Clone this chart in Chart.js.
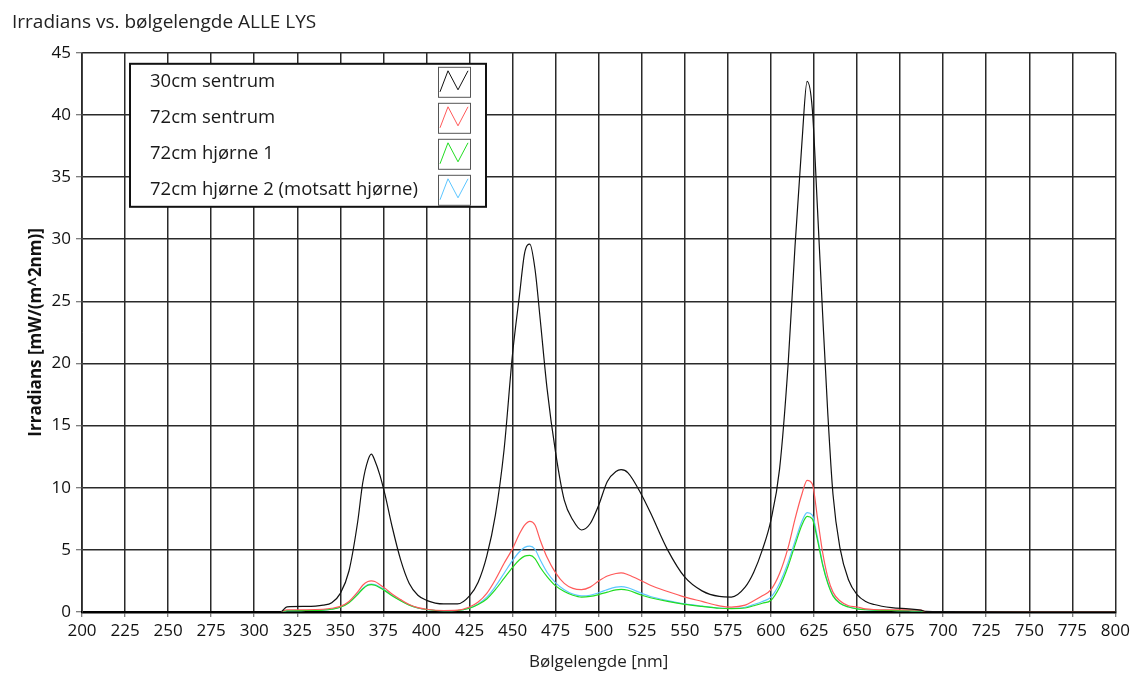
<!DOCTYPE html>
<html lang="no">
<head>
<meta charset="UTF-8">
<title>Irradians vs. bølgelengde ALLE LYS</title>
<script src="https://cdn.jsdelivr.net/npm/chart.js@4.4.1/dist/chart.umd.min.js"></script>
<style>
  html, body { margin: 0; padding: 0; background: #fff; }
  #wrap { width: 1134px; height: 673px; }
</style>
</head>
<body>
<div id="wrap"><canvas id="chart"></canvas></div>
<script>
// wavelengths (nm) shared by all four measurements
const wavelengths = [316,319,330,340,345,350,355,360,363,366,368,370,373,376,380,385,390,395,400,410,
  418,425,430,435,440,445,450,454,457,460,463,466,470,475,480,485,490,495,500,505,
  510,513,517,525,530,540,550,560,570,577,585,590,595,600,605,610,614,618,621,624,
  627,630,633,636,640,645,650,655,660,670,680,687,690,700,750,800];

const sentrum30 = [0.05,0.42,0.45,0.55,0.75,1.5,3.3,7.2,10.4,12.2,12.7,12.2,11.0,9.4,6.9,4.2,2.3,1.35,0.94,0.65,
  0.65,1.3,2.4,4.5,7.8,13.0,20.8,25.5,28.9,29.6,27.6,23.6,18.0,12.8,9.0,7.4,6.6,7.1,8.6,10.5,
  11.3,11.45,11.2,9.4,8.0,5.0,2.8,1.7,1.25,1.2,2.0,3.2,5.0,7.4,11.5,20.0,29.5,37.8,42.7,40.5,
  32.5,24.0,16.0,9.5,5.2,2.6,1.4,0.85,0.6,0.35,0.25,0.15,0.05,0.03,0.02,0.02];

const sentrum72 = [0.05,0.18,0.18,0.22,0.3,0.45,0.85,1.6,2.15,2.45,2.5,2.45,2.2,1.9,1.45,1.0,0.6,0.35,0.22,0.12,
  0.15,0.4,0.8,1.5,2.6,3.9,5.1,6.3,7.0,7.3,7.0,5.8,4.4,3.15,2.3,1.9,1.8,2.0,2.5,2.9,
  3.1,3.15,3.0,2.5,2.15,1.65,1.2,0.85,0.5,0.4,0.55,0.9,1.3,1.8,3.1,5.2,7.5,9.5,10.6,10.3,
  7.6,4.8,2.8,1.6,0.9,0.5,0.4,0.25,0.2,0.18,0.17,0.15,0.02,0.02,0.02,0.02];

const hjorne1 = [0.04,0.1,0.12,0.15,0.22,0.38,0.75,1.4,1.85,2.15,2.2,2.15,1.95,1.7,1.3,0.9,0.55,0.32,0.2,0.1,
  0.12,0.3,0.6,1.05,1.8,2.7,3.6,4.2,4.5,4.55,4.3,3.6,2.85,2.1,1.65,1.35,1.2,1.25,1.4,1.6,
  1.78,1.82,1.75,1.35,1.15,0.85,0.62,0.45,0.3,0.27,0.32,0.5,0.7,0.95,2.0,3.7,5.4,7.0,7.7,7.5,
  5.8,3.8,2.3,1.3,0.7,0.4,0.25,0.18,0.14,0.12,0.1,0.08,0.02,0.02,0.02,0.02];

const hjorne2 = [0.04,0.1,0.12,0.15,0.22,0.4,0.78,1.45,1.9,2.2,2.25,2.2,2.0,1.75,1.35,0.92,0.57,0.33,0.2,0.1,
  0.12,0.32,0.65,1.2,2.05,3.1,4.15,4.85,5.2,5.3,5.05,4.2,3.2,2.35,1.8,1.45,1.3,1.35,1.55,1.8,
  2.0,2.05,1.95,1.5,1.25,0.92,0.65,0.47,0.32,0.3,0.38,0.6,0.85,1.2,2.3,4.0,5.7,7.3,8.0,7.8,
  6.0,3.9,2.4,1.35,0.72,0.42,0.26,0.18,0.14,0.12,0.1,0.08,0.02,0.02,0.02,0.02];

const seriesNames = ['30cm sentrum', '72cm sentrum', '72cm hjørne 1', '72cm hjørne 2 (motsatt hjørne)'];
const seriesColors = ['#111111', '#ff5a5a', '#22dd22', '#5cc6ff'];

const FONT = '"Open Sans", "Noto Sans", sans-serif';

function points(vals) {
  return wavelengths.map((x, i) => ({ x: x, y: vals[i] }));
}

// legend drawn inside the plot, like the original instrument software
const legendBox = {
  id: 'legendBox',
  afterDraw(chart) {
    const ctx = chart.ctx;
    const a = chart.chartArea;
    const x0 = a.left + 48, y0 = a.top + 11, w = 356, h = 143;
    ctx.save();
    ctx.fillStyle = '#fff';
    ctx.fillRect(x0, y0, w, h);
    ctx.lineWidth = 2;
    ctx.strokeStyle = '#111';
    ctx.strokeRect(x0, y0, w, h);
    ctx.font = '18.5px ' + FONT;
    ctx.textBaseline = 'middle';
    seriesNames.forEach((name, i) => {
      const rowY = y0 + 3 + i * 36;
      ctx.fillStyle = '#1a1a1a';
      ctx.fillText(name, x0 + 20, rowY + 15);
      const ix = x0 + 308;
      ctx.lineWidth = 1;
      ctx.strokeStyle = '#555';
      ctx.strokeRect(ix + 0.5, rowY + 0.5, 32, 30);
      ctx.strokeStyle = seriesColors[i];
      ctx.beginPath();
      ctx.moveTo(ix + 2, rowY + 25);
      ctx.lineTo(ix + 10, rowY + 4);
      ctx.lineTo(ix + 20, rowY + 23);
      ctx.lineTo(ix + 30, rowY + 4);
      ctx.stroke();
    });
    ctx.restore();
  }
};

const allSeries = [sentrum30, sentrum72, hjorne1, hjorne2];

new Chart(document.getElementById('chart'), {
  type: 'line',
  data: {
    datasets: allSeries.map((vals, i) => ({
      label: seriesNames[i],
      data: points(vals),
      borderColor: seriesColors[i],
      borderWidth: 1.2,
      pointRadius: 0,
      fill: false,
      cubicInterpolationMode: 'monotone'
    }))
  },
  options: {
    responsive: true,
    maintainAspectRatio: false,
    animation: false,
    layout: { padding: { left: 12, right: 17, top: 0, bottom: 0 } },
    plugins: {
      legend: { display: false },
      tooltip: { enabled: false },
      title: {
        display: true,
        text: 'Irradians vs. bølgelengde ALLE LYS',
        align: 'start',
        color: '#222',
        font: { family: FONT, size: 19, weight: 'normal', lineHeight: 1.2 },
        padding: { top: 11, bottom: 19 }
      }
    },
    scales: {
      x: {
        type: 'linear',
        min: 200,
        max: 800,
        afterFit(scale) { scale.height = 61; },
        ticks: {
          stepSize: 25,
          color: '#111',
          padding: 4,
          maxRotation: 0,
          autoSkip: false,
          font: { family: FONT, size: 17 }
        },
        grid: { color: '#2a2a2a', lineWidth: 1.5, tickLength: 5, tickColor: '#555', tickWidth: 1 },
        border: { color: '#000', width: 2.5 },
        title: {
          display: true,
          text: 'Bølgelengde [nm]',
          color: '#222',
          font: { family: FONT, size: 17 },
          padding: { top: 0, bottom: 1 }
        }
      },
      y: {
        min: 0,
        max: 45,
        afterFit(scale) { scale.width = 70; },
        ticks: {
          stepSize: 5,
          color: '#111',
          padding: 5,
          font: { family: FONT, size: 17 }
        },
        grid: { color: '#2a2a2a', lineWidth: 1.5, tickLength: 6, tickColor: '#555', tickWidth: 1 },
        border: { color: '#444', width: 1 },
        title: {
          display: true,
          text: 'Irradians [mW/(m^2nm)]',
          color: '#111',
          font: { family: FONT, size: 17, weight: 'bold' },
          padding: { top: 14, bottom: 0 }
        }
      }
    }
  },
  plugins: [legendBox]
});
</script>
</body>
</html>
